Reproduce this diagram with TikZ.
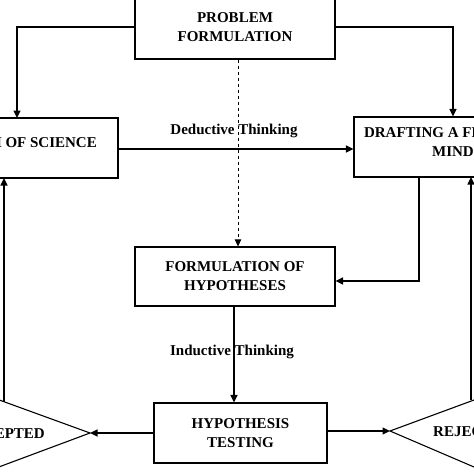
\documentclass[tikz,border=0pt]{standalone}
\usepackage{fontspec}
\setmainfont{Liberation Serif}
\usetikzlibrary{arrows.meta,calc}
\begin{document}
\begin{tikzpicture}[x=1pt,y=-1pt,
  box/.style={draw,line width=1.2pt,rectangle,inner sep=0pt,align=center,font=\fontsize{15}{19}\selectfont\bfseries},
  lbl/.style={inner sep=0pt,font=\fontsize{15}{19}\selectfont\bfseries},
  arr/.style={line width=1.4pt,-{Triangle[length=7.5pt,width=7pt]}},
  tri/.style={draw,line width=1.1pt}]
\useasboundingbox (0,0) rectangle (474,474);
\fill[white] (0,0) rectangle (474,474);
\clip (0,0) rectangle (474,474);
% boxes
\node[box,minimum width=200pt,minimum height=64pt] (pf) at (235,27) {PROBLEM\\FORMULATION};
\node[box,minimum width=138pt,minimum height=60pt] (gs) at (49,148) {};
\node[lbl,anchor=east] (gst) at (97,143) {GROWTH OF SCIENCE};
\node[box,minimum width=198pt,minimum height=60pt] (df) at (453,147) {};
\node[lbl,align=center] (dft) at (453,142) {DRAFTING A FRAME OF\\MIND};
\node[box,minimum width=200pt,minimum height=59pt] (fh) at (235,276.5) {FORMULATION OF\\HYPOTHESES};
\node[box,minimum width=173pt,minimum height=60pt] (ht) at (240.5,433) {HYPOTHESIS\\TESTING};
% triangles
\coordinate (acctip) at (90,433);
\coordinate (acctop) at (4,401.5);
\draw[tri] (-20,393) -- (acctip) -- (-20,474);
\node[lbl,anchor=east] (acct) at (45,434) {ACCEPTED};
\coordinate (rejtip) at (390,431);
\coordinate (rejtop) at (471,400);
\draw[tri] (560,399) -- (474,400) -- (rejtip) -- (474,467) -- (560,500);
\node[lbl,anchor=west] (rejt) at (433,432) {REJECTED};
% named ports
\coordinate (gsin) at (17,118);
\coordinate (gsup) at (4,178);
\coordinate (dfout) at (419,177);
\coordinate (dfup) at (471,177);
% connectors
\draw[arr] (pf.west) -| (gsin);
\draw[arr] (pf.east) -| (df.north);
\draw[arr] (gs.east |- 0,149) -- (df.west |- 0,149);
\draw[line width=0.8pt,dashed,-{Triangle[length=7pt,width=6.5pt]}] (pf.south -| 238,0) -- (fh.north -| 238,0);
\draw[arr] (dfout) |- (fh.east |- 0,281);
\draw[arr] (fh.south -| 234,0) -- (ht.north -| 234,0);
\draw[arr] (ht.west) -- (acctip);
\draw[arr] (ht.east |- 0,431) -- (rejtip);
\draw[arr] (acctop) -- (gsup);
\draw[arr] (rejtop) -- (dfup);
% labels
\node[lbl] (ded) at (234,131) {Deductive Thinking};
\node[lbl] (ind) at (232,352) {Inductive Thinking};
\end{tikzpicture}
\end{document}
